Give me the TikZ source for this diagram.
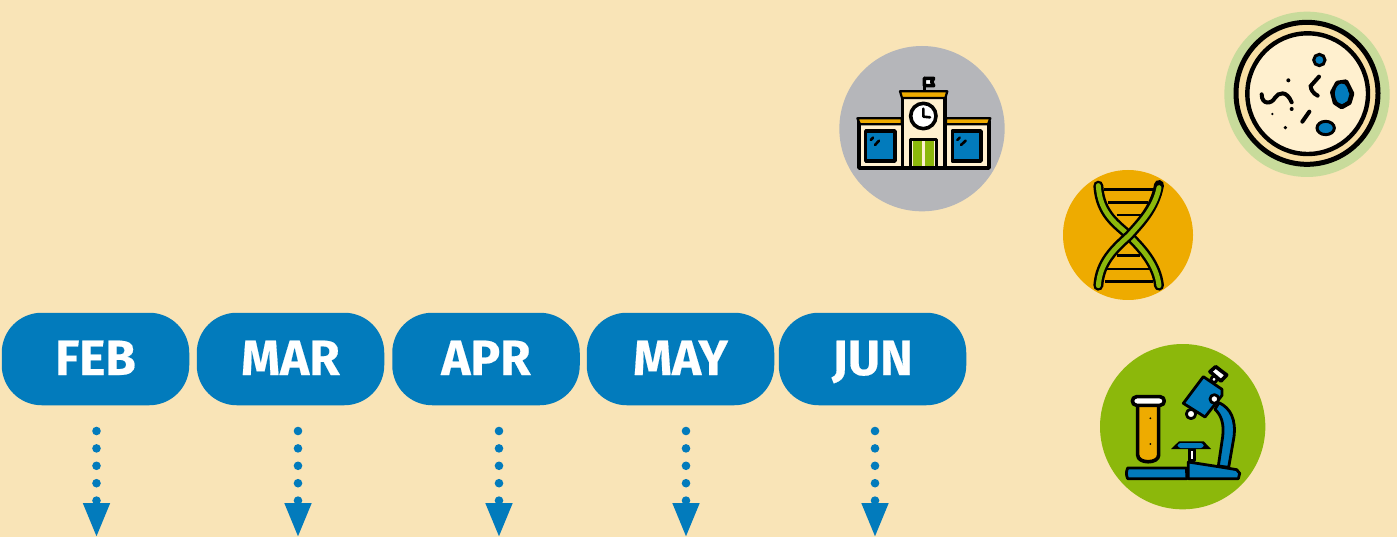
\documentclass[tikz,border=0pt]{standalone}
\usepackage{fontspec}
\setmainfont{Fira Sans}
\newfontfamily\monthfont[UprightFont={* Bold},FakeBold=0.35]{Fira Sans}
\usetikzlibrary{arrows.meta}
\definecolor{bgc}{HTML}{F9E4B7}
\definecolor{bluec}{HTML}{027BBC}
\definecolor{greyc}{HTML}{B5B6BA}
\definecolor{sagec}{HTML}{C8DB9B}
\definecolor{orangec}{HTML}{EEAB00}
\definecolor{greenc}{HTML}{8CB80B}
\definecolor{creamc}{HTML}{FFF0CF}
\definecolor{ringc}{HTML}{F8DFA5}
\tikzset{
  month/.style={fill=bluec,rounded corners=40pt,minimum width=187.5pt,minimum height=92.5pt,inner sep=0pt,text=white,text height=32pt,text depth=0pt,font=\fontsize{49.5}{50}\monthfont},
  dotarrow/.style={draw=bluec,line width=8.6pt,line cap=round,dash pattern=on 0pt off 17.4pt,-{Triangle[length=35pt,width=24.5pt]}},
  ink/.style={draw=black,line join=round,line cap=round,line width=3.6pt},
  mid ink/.style={draw=black,line join=round,line cap=round,line width=2.8pt},
  roof ink/.style={draw=black,line join=round,line cap=round,line width=2.2pt,fill=orangec},
  thin ink/.style={draw=black,line join=round,line cap=round,line width=2.6pt},
  icon/.style={x=0.33333pt,y=-0.33333pt}
}
\begin{document}
\begin{tikzpicture}[x=1pt,y=-1pt]
\useasboundingbox (0,0) rectangle (1397,537);
\fill[bgc] (0,0) rectangle (1397,537);
% month boxes
\node[month] (feb) at (95.5,359) {FEB};
\node[month] (mar) at (290.5,359) {MAR};
\node[month] (apr) at (486,359) {APR};
\node[month] (may) at (680.5,359) {MAY};
\node[month] (jun) at (872.5,359) {JUN};
% arrows
\foreach \n/\x in {a/96.5,b/298,c/499,d/686,e/875}{
  \coordinate (\n s) at (\x,431);
  \coordinate (\n e) at (\x,538);
  \draw[dotarrow] (\n s) -- (\n e);
}
% school
\begin{scope}[shift={(830,40)},icon]
\fill[greyc] (276,266) circle[radius=248];
\draw[ink,fill=creamc] (87,245) rectangle (218,384);
\draw[ink,fill=creamc] (345,245) rectangle (477,384);
\draw[roof ink] (82,235) -- (215,235) -- (215,253) -- (90,253) -- cycle;
\draw[roof ink] (348,235) -- (481,235) -- (474,253) -- (348,253) -- cycle;
\draw[ink,fill=creamc] (218,170) rectangle (345,384);
\draw[ink,fill=white] (283,115) -- (311,115) -- (305,125) -- (311,137) -- (283,137) -- cycle;
\draw[ink] (283,115) -- (283,152);
\draw[roof ink] (210,154) -- (352,154) -- (346,174) -- (216,174) -- cycle;
\draw[ink,fill=white] (280,228) circle[radius=38];
\draw[thin ink] (280,206) -- (280,230) -- (300,232);
\draw[ink,fill=creamc] (241,298) rectangle (320,384);
\fill[greenc] (249,304) rectangle (277,379);
\fill[greenc] (286,304) rectangle (313,379);
\draw[ink,fill=bluec] (107,273) rectangle (195,363);
\draw[ink,fill=bluec] (367,273) rectangle (453,363);
\draw[thin ink] (135,315) -- (147,302) (122,300) -- (129,293);
\draw[thin ink] (393,315) -- (407,302) (382,300) -- (389,293);
\end{scope}
% petri dish
\begin{scope}[shift={(1215,5)},icon]
\fill[sagec] (276,268) circle[radius=248];
\draw[black,line width=5pt,fill=ringc] (276,265) circle[radius=213];
\draw[black,line width=4.4pt,fill=creamc] (278,266) circle[radius=181];
\draw[black,line width=3pt,fill=bluec] (313,165) circle[radius=17];
\draw[black,line width=4.6pt,line join=round,fill=bluec] (367,234) -- (393,230) -- (411,266) -- (403,293) -- (380,306) -- (360,293) -- (352,262) -- cycle;
\fill[bluec] (380,266) ellipse[x radius=20,y radius=30];
\draw[black,line width=3pt,fill=bluec] (332,369) ellipse[x radius=26,y radius=20];
\draw[black,line width=4pt,line cap=round] (140,268) .. controls (140,300) and (170,298) .. (180,278) .. controls (190,262) and (215,255) .. (230,292);
\draw[black,line width=4pt,line cap=round] (312,215) -- (287,243) .. controls (287,255) and (296,266) .. (308,272);
\draw[black,line width=4pt,line cap=round] (262,350) -- (283,320);
\fill (220,226) circle[radius=6];
\fill (230,312) circle[radius=6];
\fill (172,327) circle[radius=4];
\fill (211,368) circle[radius=5.5];
\end{scope}
% DNA
\begin{scope}[shift={(1055,165)},icon]
\fill[orangec] (219,210) circle[radius=195];
\foreach \yy/\a/\b in {73/148/295,113/160/280,150/185/262,272/185/255,312/155/285,350/150/295}
  \draw[black,line width=2.4pt] (\a,\yy) -- (\b,\yy);
\draw[black,line width=10pt,line cap=round] (130,62) .. controls (135,150) and (190,180) .. (222,212) .. controls (265,255) and (305,300) .. (312,362);
\draw[greenc,line width=5pt,line cap=round] (130,62) .. controls (135,150) and (190,180) .. (222,212) .. controls (265,255) and (305,300) .. (312,362);
\draw[black,line width=10pt,line cap=round] (312,60) .. controls (300,130) and (255,175) .. (222,212) .. controls (180,250) and (135,290) .. (130,362);
\draw[greenc,line width=5pt,line cap=round] (312,68) .. controls (300,130) and (255,175) .. (222,212) .. controls (180,250) and (135,290) .. (130,362);
\end{scope}
% microscope
\begin{scope}[shift={(1095,340)},icon]
\fill[greenc] (263,260) circle[radius=248];
\draw[ink,fill=orangec] (128,190) -- (128,345) .. controls (128,372) and (191,372) .. (191,345) -- (191,190) -- cycle;
\draw[ink,fill=white] (125,170) -- (195,170) .. controls (212,170) and (212,196) .. (195,196) -- (125,196) .. controls (108,196) and (108,170) .. (125,170) -- cycle;
\fill (166,235) circle[radius=3];
\fill (166,312) circle[radius=3];
\draw[mid ink,fill=bluec] (98,384) -- (274,384) -- (276,416) -- (98,416) .. controls (93,405) and (93,395) .. (98,384) -- cycle;
\draw[mid ink,fill=bluec] (372,188) .. controls (408,205) and (423,240) .. (417,290) -- (401,382) -- (370,378) -- (383,290) .. controls (388,250) and (378,225) .. (360,208) -- cycle;
\draw[mid ink,fill=white] (283,328) rectangle (298,362);
\draw[mid ink,fill=bluec] (280,366) -- (370,380) -- (425,389) -- (434,400) -- (430,416) -- (280,416) -- cycle;
\fill[black] (228,327) -- (252,304) -- (326,304) -- (348,327) -- cycle;
\fill[bluec,rounded corners=3pt] (248,309) rectangle (326,324);
\draw[mid ink,fill=white] (288,222) circle[radius=14];
\draw[ink,fill=white] (345,95) -- (362,80) -- (395,105) -- (378,123) -- cycle;
\draw[mid ink,fill=white] (357,118) circle[radius=9];
\draw[mid ink,fill=bluec] (325,110) -- (381,148) -- (381,166) -- (330,231) -- (265,190) -- cycle;
\draw[mid ink,fill=white] (358,177) circle[radius=13];
\end{scope}
\end{tikzpicture}
\end{document}
